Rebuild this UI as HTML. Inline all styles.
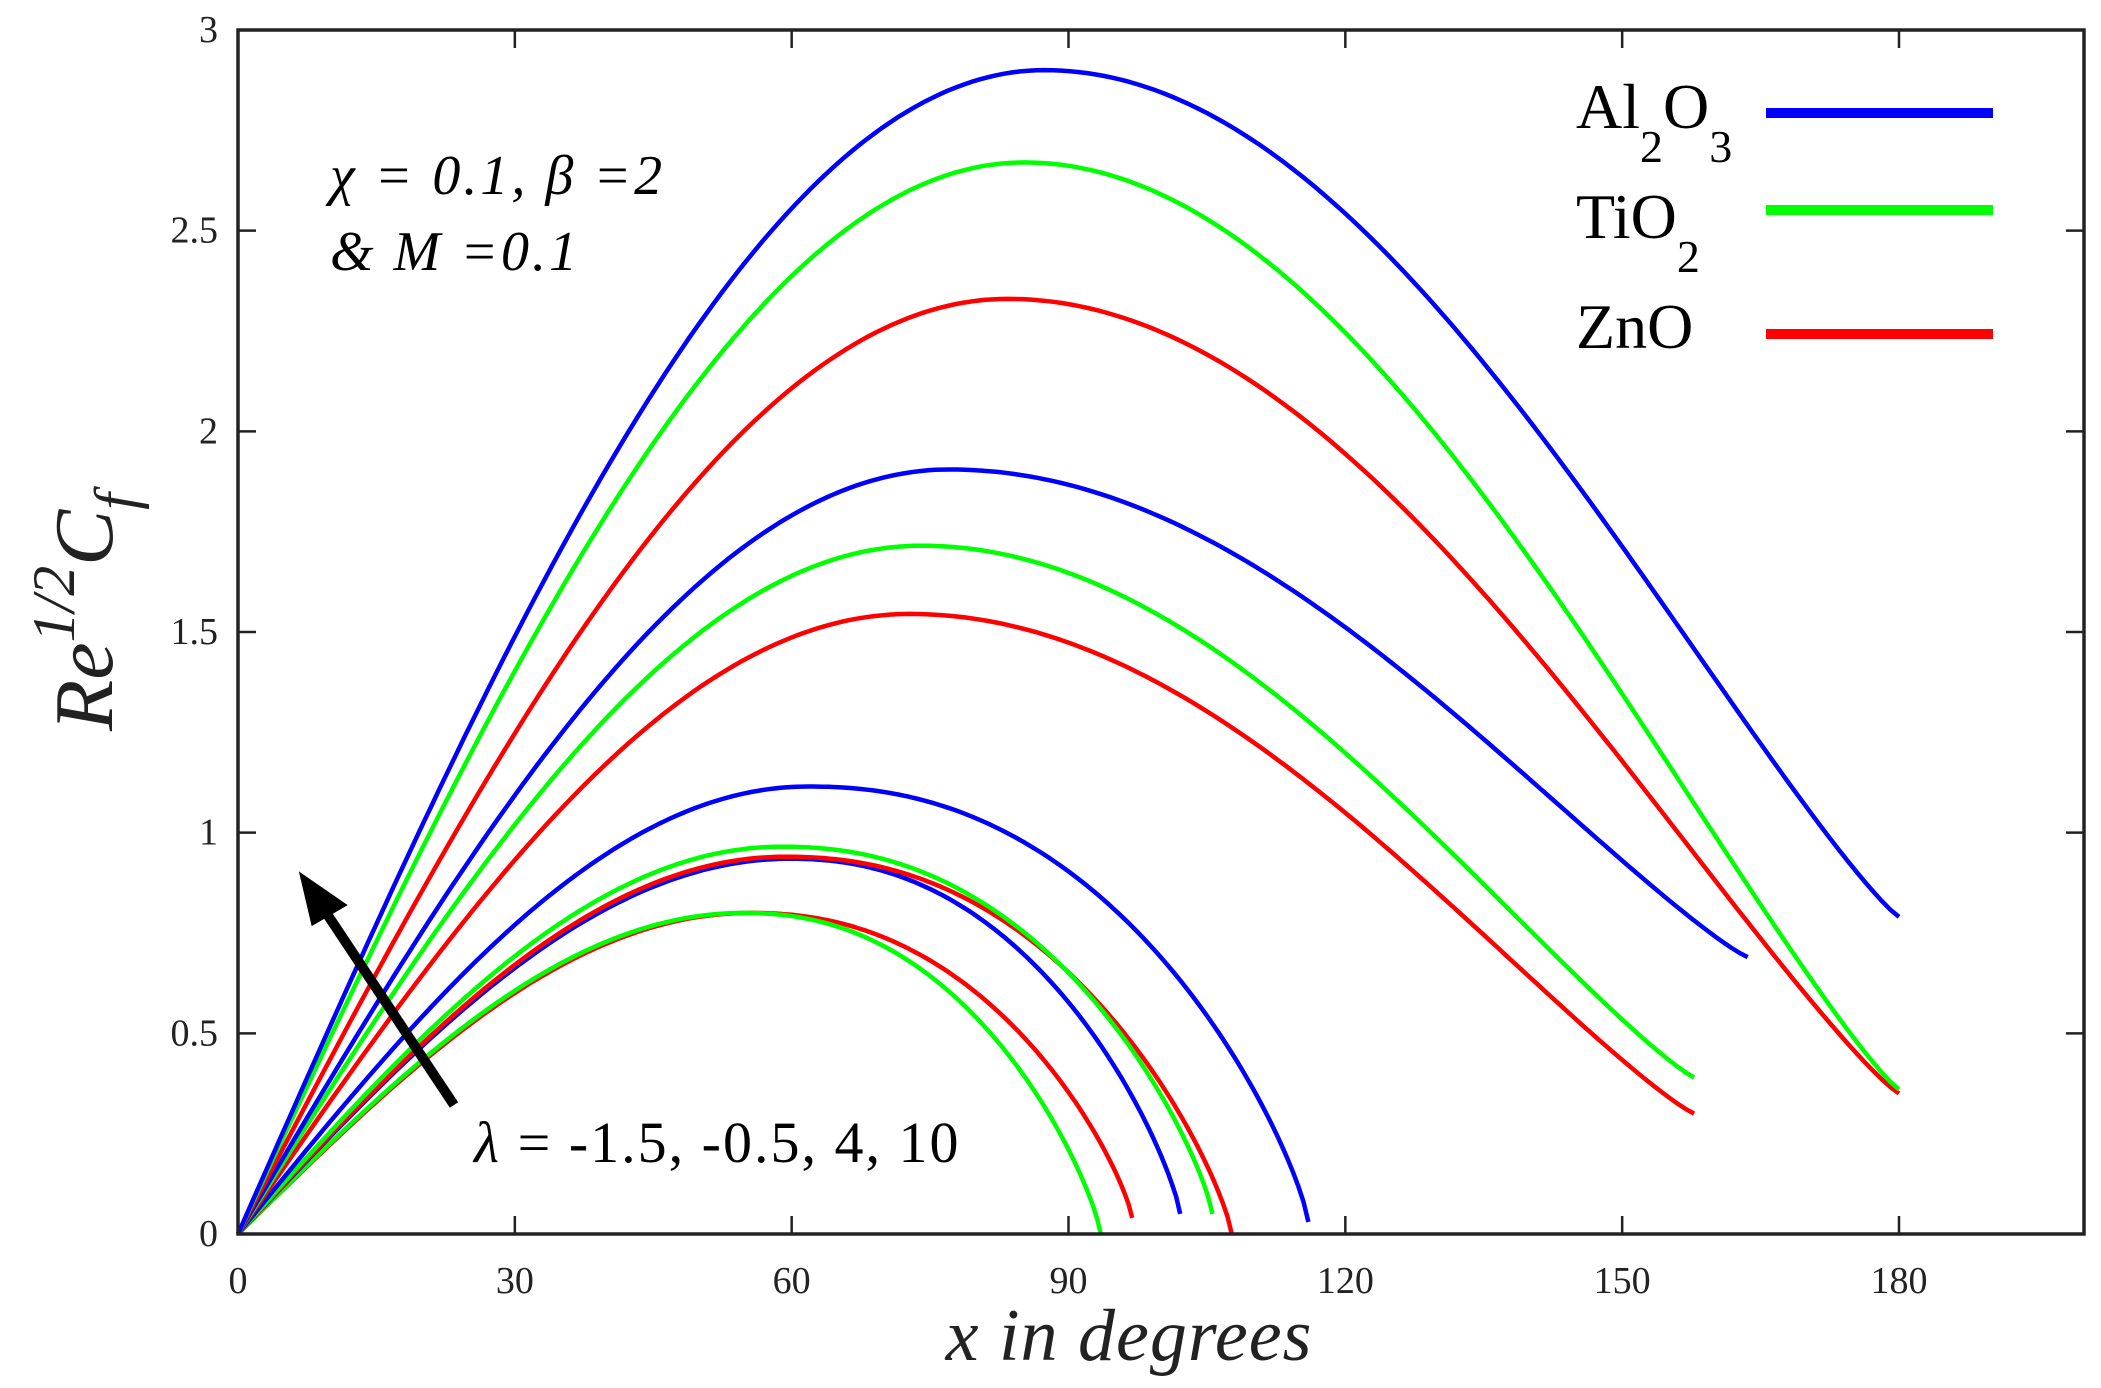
<!DOCTYPE html>
<html><head><meta charset="utf-8"><style>
html,body{margin:0;padding:0;background:#fff;}
svg{display:block;}
</style></head><body>
<svg id="s" width="2101" height="1388" viewBox="0 0 2101 1388" xmlns="http://www.w3.org/2000/svg" font-family="'Liberation Serif','DejaVu Serif',serif">
<g id="curves" fill="none" stroke-width="4.5" stroke-linejoin="round" stroke-linecap="butt"></g>
<rect x="238" y="30" width="1846" height="1204" fill="none" stroke="#222" stroke-width="3.5"/>
<g id="ticks" stroke="#222" stroke-width="2.5"></g>
<g id="labels" font-size="38" text-anchor="middle" fill="#222" font-family="'Liberation Serif',serif"></g>
<!-- legend -->
<line x1="1766" y1="113" x2="1993" y2="113" stroke="#0000ff" stroke-width="10"/>
<line x1="1766" y1="210" x2="1993" y2="210" stroke="#00ff00" stroke-width="10"/>
<line x1="1766" y1="334" x2="1993" y2="334" stroke="#ff0000" stroke-width="10"/>
<text x="1576" y="128" font-size="64" fill="#000" font-family="'Liberation Serif',serif">Al<tspan font-size="46" dy="34">2</tspan><tspan dy="-34">O</tspan><tspan font-size="46" dy="34">3</tspan></text>
<text x="1576" y="238" font-size="64" fill="#000" font-family="'Liberation Serif',serif">TiO<tspan font-size="46" dy="34">2</tspan></text>
<text x="1576" y="348" font-size="64" fill="#000" font-family="'Liberation Serif',serif">ZnO</text>
<!-- annotations -->
<text x="330" y="194" font-size="56" font-style="italic" fill="#000" letter-spacing="3" font-family="'Liberation Serif',serif">χ = 0.1, β =2</text>
<text x="330" y="270" font-size="56" font-style="italic" fill="#000" letter-spacing="3" font-family="'Liberation Serif',serif">&amp; M =0.1</text>
<text x="474" y="1162" font-size="58" fill="#000" letter-spacing="2" font-family="'Liberation Serif',serif"><tspan font-style="italic">λ</tspan> = -1.5, -0.5, 4, 10</text>
<line x1="454" y1="1105" x2="325" y2="911" stroke="#000" stroke-width="10"/>
<polygon points="302,876 344,905 313,923" fill="#000" stroke="#000" stroke-width="4"/>
<!-- axis labels -->
<text x="1129" y="1360" font-size="74" font-style="italic" text-anchor="middle" fill="#222" letter-spacing="1" font-family="'Liberation Serif',serif">x in degrees</text>
<text transform="translate(112,612) rotate(-90)" font-size="84" font-style="italic" text-anchor="middle" fill="#222" font-family="'Liberation Serif',serif">Re<tspan font-size="60" dy="-38">1/2</tspan><tspan dy="38">C</tspan><tspan font-size="60" dy="24">f</tspan></text>
</svg>
<script>
var X=function(d){return 238+d*(1899-238)/180;};
var Y=function(v){return 1234-v*(1234-30)/3;};
var ns="http://www.w3.org/2000/svg";
var t=document.getElementById('ticks'),L=document.getElementById('labels');
function el(p,n,a,txt){var e=document.createElementNS(ns,n);for(var k in a)e.setAttribute(k,a[k]);if(txt!==undefined)e.textContent=txt;p.appendChild(e);return e;}
[0,30,60,90,120,150,180].forEach(function(d){var x=X(d);
 el(t,'line',{x1:x,y1:1234,x2:x,y2:1216});el(t,'line',{x1:x,y1:30,x2:x,y2:48});
 el(L,'text',{x:x,y:1293},String(d));});
[0,0.5,1,1.5,2,2.5,3].forEach(function(v){var y=Y(v);
 el(t,'line',{x1:238,y1:y,x2:256,y2:y});el(t,'line',{x1:2084,y1:y,x2:2066,y2:y});
 el(L,'text',{x:218,y:y+12,'text-anchor':'end'},String(v));});
var C=document.getElementById('curves');
var cs=[
['#ff0000',55.5,0.80,96.9,0.04,1],['#00ff00',54.8,0.80,93.5,0.0,1],
['#0000ff',59.8,0.935,102.1,0.05,1],['#ff0000',59.3,0.94,107.7,0.0,1],
['#00ff00',58.9,0.965,105.6,0.05,1],['#0000ff',61.8,1.115,116,0.03,1],
['#ff0000',72.8,1.545,157.8,0.30,0],['#00ff00',74,1.715,157.8,0.39,0],['#0000ff',77.1,1.905,163.6,0.69,0],
['#ff0000',83.4,2.33,180,0.35,0],['#00ff00',85.2,2.67,180,0.36,0],['#0000ff',87.4,2.9,180,0.79,0]];
cs.forEach(function(c){var xp=c[1],yp=c[2],xe=c[3],ye=c[4],ty=c[5],pts=[];
 for(var i=0;i<=200;i++){var x,y;
  if(i<=100){x=xp*i/100;y=yp*Math.sin(Math.PI/2*x/xp);}
  else{var s=(i-100)/100;x=xp+(xe-xp)*s;
   if(ty==0){y=ye+(yp-ye)*Math.pow(Math.cos(Math.PI/2*s),1.15);}
   else{y=ye+(yp-ye)*Math.pow(1-Math.pow(s,2.2),0.8);}}
  pts.push(X(x).toFixed(1)+','+Y(y).toFixed(1));}
 el(C,'polyline',{points:pts.join(' '),stroke:c[0]});});
</script>
</body></html>
